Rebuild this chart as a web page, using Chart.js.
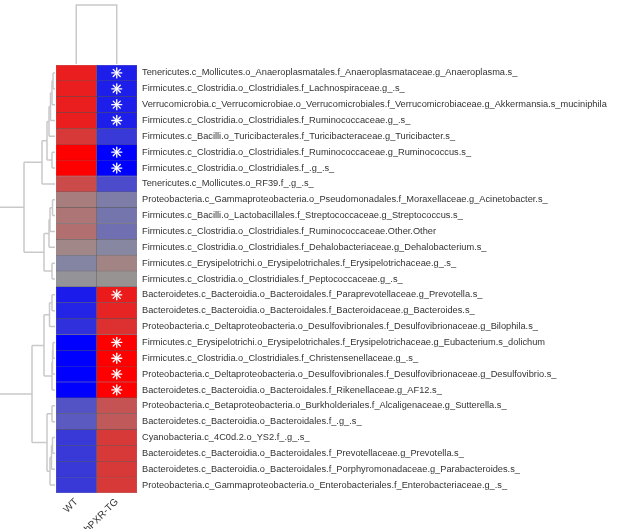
<!DOCTYPE html>
<html>
<head>
<meta charset="utf-8">
<script src="https://cdn.jsdelivr.net/npm/chart.js@4.4.1/dist/chart.umd.min.js"></script>
<style>
  html, body { margin: 0; padding: 0; background: #ffffff; }
  #wrap { width: 626px; height: 529px; position: relative; }
</style>
</head>
<body>
<div id="wrap"><canvas id="c"></canvas></div>
<script>
// ---------------- data ----------------
const groups = ['WT', 'hPXR-TG'];

const taxa = [
  'Tenericutes.c_Mollicutes.o_Anaeroplasmatales.f_Anaeroplasmataceae.g_Anaeroplasma.s_',
  'Firmicutes.c_Clostridia.o_Clostridiales.f_Lachnospiraceae.g_.s_',
  'Verrucomicrobia.c_Verrucomicrobiae.o_Verrucomicrobiales.f_Verrucomicrobiaceae.g_Akkermansia.s_muciniphila',
  'Firmicutes.c_Clostridia.o_Clostridiales.f_Ruminococcaceae.g_.s_',
  'Firmicutes.c_Bacilli.o_Turicibacterales.f_Turicibacteraceae.g_Turicibacter.s_',
  'Firmicutes.c_Clostridia.o_Clostridiales.f_Ruminococcaceae.g_Ruminococcus.s_',
  'Firmicutes.c_Clostridia.o_Clostridiales.f_.g_.s_',
  'Tenericutes.c_Mollicutes.o_RF39.f_.g_.s_',
  'Proteobacteria.c_Gammaproteobacteria.o_Pseudomonadales.f_Moraxellaceae.g_Acinetobacter.s_',
  'Firmicutes.c_Bacilli.o_Lactobacillales.f_Streptococcaceae.g_Streptococcus.s_',
  'Firmicutes.c_Clostridia.o_Clostridiales.f_Ruminococcaceae.Other.Other',
  'Firmicutes.c_Clostridia.o_Clostridiales.f_Dehalobacteriaceae.g_Dehalobacterium.s_',
  'Firmicutes.c_Erysipelotrichi.o_Erysipelotrichales.f_Erysipelotrichaceae.g_.s_',
  'Firmicutes.c_Clostridia.o_Clostridiales.f_Peptococcaceae.g_.s_',
  'Bacteroidetes.c_Bacteroidia.o_Bacteroidales.f_Paraprevotellaceae.g_Prevotella.s_',
  'Bacteroidetes.c_Bacteroidia.o_Bacteroidales.f_Bacteroidaceae.g_Bacteroides.s_',
  'Proteobacteria.c_Deltaproteobacteria.o_Desulfovibrionales.f_Desulfovibrionaceae.g_Bilophila.s_',
  'Firmicutes.c_Erysipelotrichi.o_Erysipelotrichales.f_Erysipelotrichaceae.g_Eubacterium.s_dolichum',
  'Firmicutes.c_Clostridia.o_Clostridiales.f_Christensenellaceae.g_.s_',
  'Proteobacteria.c_Deltaproteobacteria.o_Desulfovibrionales.f_Desulfovibrionaceae.g_Desulfovibrio.s_',
  'Bacteroidetes.c_Bacteroidia.o_Bacteroidales.f_Rikenellaceae.g_AF12.s_',
  'Proteobacteria.c_Betaproteobacteria.o_Burkholderiales.f_Alcaligenaceae.g_Sutterella.s_',
  'Bacteroidetes.c_Bacteroidia.o_Bacteroidales.f_.g_.s_',
  'Cyanobacteria.c_4C0d.2.o_YS2.f_.g_.s_',
  'Bacteroidetes.c_Bacteroidia.o_Bacteroidales.f_Prevotellaceae.g_Prevotella.s_',
  'Bacteroidetes.c_Bacteroidia.o_Bacteroidales.f_Porphyromonadaceae.g_Parabacteroides.s_',
  'Proteobacteria.c_Gammaproteobacteria.o_Enterobacteriales.f_Enterobacteriaceae.g_.s_'
];

// scaled abundance (-1 = blue, 0 = grey, +1 = red)
const wtValues = [0.8, 0.8, 0.8, 0.8, 0.62, 1.0, 1.0, 0.5, 0.17, 0.22, 0.26, 0.1, -0.12, -0.02,
                  -0.82, -0.76, -0.68, -1.0, -1.0, -1.0, -1.0, -0.45, -0.4, -0.62, -0.62, -0.62, -0.62];
const tgValues = [-0.8, -0.8, -0.8, -0.8, -0.62, -1.0, -1.0, -0.5, -0.17, -0.22, -0.26, -0.1, 0.12, 0.02,
                  0.82, 0.76, 0.68, 1.0, 1.0, 1.0, 1.0, 0.45, 0.4, 0.62, 0.62, 0.62, 0.62];

// rows with a significance asterisk in the hPXR-TG column
const significantRows = [0, 1, 2, 3, 5, 6, 14, 17, 18, 19, 20];

// row dendrogram (hclust style: negative = leaf row (1-based), positive = earlier merge)
const rowMerges = [
  [-1, -2], [1, -3], [2, -4], [3, -5], [-6, -7], [4, 5], [6, -8],
  [-9, -10], [8, -11], [9, -12], [-13, -14], [10, 11], [7, 12],
  [-15, -16], [14, -17], [-18, -19], [16, -20], [17, -21], [15, 18],
  [-22, -23], [-24, -25], [21, -26], [22, -27], [20, 23], [19, 24], [13, 25]
];
const rowMergeHeights = [
  2, 3, 4.5, 6, 3, 8, 13,
  2.5, 5, 6, 3, 11, 31,
  3, 5.5, 2, 2.5, 3, 11,
  3, 2.5, 3.5, 5, 8, 23, 70
];
// column dendrogram: the two groups join at height 1
const colMergeHeight = 1;

// ---------------- helpers ----------------
function heatColor(v) {
  const g = [150, 150, 150];
  const t = Math.min(1, Math.abs(v));
  const target = v >= 0 ? [255, 0, 0] : [0, 0, 255];
  const c = g.map((a, i) => Math.round(a + (target[i] - a) * t));
  return `rgb(${c[0]},${c[1]},${c[2]})`;
}

const FONT = '"Liberation Sans", Arial, sans-serif';

const extras = {
  id: 'extras',
  afterDatasetsDraw(chart) {
    const { ctx, chartArea, scales: { x, y } } = chart;
    ctx.save();
    // asterisks
    ctx.strokeStyle = '#ffffff';
    ctx.lineWidth = 1.3;
    ctx.lineCap = 'round';
    significantRows.forEach(i => {
      const cx = x.getPixelForValue(1.5);
      const cy = y.getPixelForValue(i);
      const r = 5;
      for (let k = 0; k < 4; k++) {
        const a = k * Math.PI / 4;
        ctx.beginPath();
        ctx.moveTo(cx - r * Math.cos(a), cy - r * Math.sin(a));
        ctx.lineTo(cx + r * Math.cos(a), cy + r * Math.sin(a));
        ctx.stroke();
      }
    });

    // dendrograms
    ctx.strokeStyle = '#c9c9c9';
    ctx.lineWidth = 1.5;
    ctx.lineCap = 'butt';
    const pxPerUnit = 1.0;
    const xOf = h => chartArea.left - 1 - h * pxPerUnit;
    const nodes = [];
    const info = c => c < 0 ? { pos: y.getPixelForValue(-c - 1), h: 0 } : nodes[c - 1];
    rowMerges.forEach((m, k) => {
      const h = rowMergeHeights[k];
      const a = info(m[0]), b = info(m[1]);
      const xh = xOf(h);
      ctx.beginPath();
      ctx.moveTo(xOf(a.h), a.pos); ctx.lineTo(xh, a.pos);
      ctx.moveTo(xOf(b.h), b.pos); ctx.lineTo(xh, b.pos);
      ctx.moveTo(xh, a.pos); ctx.lineTo(xh, b.pos);
      ctx.stroke();
      nodes.push({ pos: (a.pos + b.pos) / 2, h });
    });

    // column dendrogram
    const yOf = h => chartArea.top - 1 - h * 59;
    const x1 = x.getPixelForValue(0.5), x2 = x.getPixelForValue(1.5);
    ctx.beginPath();
    ctx.moveTo(x1, yOf(0)); ctx.lineTo(x1, yOf(colMergeHeight));
    ctx.lineTo(x2, yOf(colMergeHeight)); ctx.lineTo(x2, yOf(0));
    ctx.stroke();
    ctx.restore();
  }
};

const barCommon = {
  grouped: false,
  barPercentage: 1,
  categoryPercentage: 1,
  borderWidth: 0.5,
  borderColor: 'rgba(40,40,40,0.6)',
  borderSkipped: false
};

new Chart(document.getElementById('c'), {
  type: 'bar',
  data: {
    labels: taxa,
    datasets: [
      Object.assign({ label: groups[0], data: taxa.map(() => [0, 1]), backgroundColor: wtValues.map(heatColor) }, barCommon),
      Object.assign({ label: groups[1], data: taxa.map(() => [1, 2]), backgroundColor: tgValues.map(heatColor) }, barCommon)
    ]
  },
  options: {
    indexAxis: 'y',
    responsive: true,
    maintainAspectRatio: false,
    animation: false,
    layout: { padding: { left: 56, top: 65, right: 0, bottom: 0 } },
    plugins: { legend: { display: false }, tooltip: { enabled: false } },
    scales: {
      x: {
        type: 'linear', min: 0, max: 2,
        grid: { display: false, drawTicks: false }, border: { display: false },
        afterBuildTicks: s => { s.ticks = [{ value: 0.5 }, { value: 1.5 }]; },
        afterFit: s => { s.height = 36; },
        ticks: {
          autoSkip: false, minRotation: 45, maxRotation: 45, padding: 3,
          color: '#333333', font: { family: FONT, size: 10 },
          callback: v => groups[Math.round(v - 0.5)]
        }
      },
      y: {
        position: 'right',
        grid: { display: false, drawTicks: false }, border: { display: false },
        afterFit: s => { s.width = 489; },
        ticks: { autoSkip: false, padding: 5, color: '#333333', font: { family: FONT, size: 9.25 } }
      }
    }
  },
  plugins: [extras]
});
</script>
</body>
</html>
